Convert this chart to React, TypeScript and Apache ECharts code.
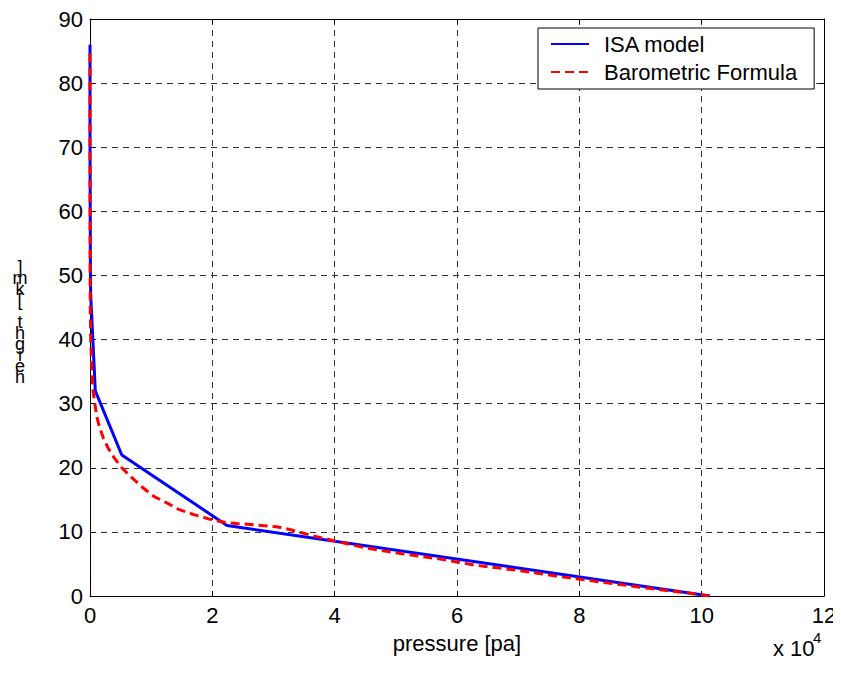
import React, { useEffect, useRef } from "react";
import * as echarts from "echarts";

// ISA model: [pressure Pa, height km]
const isaModel: [number, number][] = [
  [101325, 0],
  [22400, 11],
  [5200, 22],
  [868, 32],
  [111, 47],
  [67, 51],
  [4, 71],
  [0.37, 86],
];

// Barometric formula: [pressure Pa, height km]
const barometric: [number, number][] = [
  [101300, 0], [97500, 0.5], [93000, 1], [85000, 2], [77000, 3], [70000, 4],
  [63000, 4.8], [57000, 5.8], [51000, 6.6], [45000, 7.5], [40000, 8.6],
  [36000, 9.5], [33000, 10.3], [30500, 10.8], [27000, 11.1], [24000, 11.3],
  [22000, 11.5], [19500, 12], [17000, 12.7], [14500, 13.5], [12800, 14.4],
  [10500, 15.5], [8500, 17], [6800, 18.5], [5200, 20], [4000, 21.5],
  [3000, 23], [2200, 24.6], [1600, 26.2], [1100, 28], [800, 30], [500, 32],
  [300, 35], [120, 40], [50, 45], [20, 50], [6, 60], [1.5, 70], [0.3, 85],
];

const seriesNames = ["ISA model", "Barometric Formula"];
const xTitle = "pressure [pa]";
const yTitle = "height [km]";
const xScaleText = "x 10";
const xScaleExp = "4";

export default function App() {
  const ref = useRef<HTMLDivElement>(null);
  useEffect(() => {
    if (!ref.current) return;
    const chart = echarts.init(ref.current, null, { renderer: "svg" });
    const font = "'Liberation Sans', Arial, sans-serif";
    const axisCommon = {
      min: 0,
      axisLine: { show: true, onZero: false, lineStyle: { color: "#000", width: 1 } },
      axisTick: { show: true, inside: true, length: 5, lineStyle: { color: "#000" } },
    };
    const yChars = yTitle.split("").reverse().join("\n");
    chart.setOption({
      animation: false,
      backgroundColor: "#fff",
      textStyle: { fontFamily: font },
      grid: { left: 82, right: 17, top: 8, bottom: 69, containLabel: false },
      legend: {
        data: seriesNames,
        orient: "vertical",
        left: 530,
        top: 20,
        padding: [5, 17, 6, 12],
        itemGap: 6,
        itemWidth: 38,
        itemHeight: 14,
        backgroundColor: "#fff",
        borderColor: "#000",
        borderWidth: 1,
        borderRadius: 0,
        itemStyle: { opacity: 0 },
        textStyle: { fontFamily: font, fontSize: 22, color: "#000", padding: [0, 0, 0, 10] },
      },
      xAxis: [
        {
          ...axisCommon,
          type: "value",
          max: 120000,
          interval: 20000,
          position: "bottom",
          axisLabel: {
            color: "#000",
            fontSize: 22,
            fontFamily: font,
            margin: 8,
            formatter: (v: number) => String(v / 10000),
          },
          splitLine: { show: true, lineStyle: { color: "#333", type: [6, 5], width: 1 } },
          name: xTitle,
          nameLocation: "middle",
          nameGap: 36,
          nameTextStyle: { color: "#000", fontSize: 22, fontFamily: font, verticalAlign: "top" },
        },
        {
          ...axisCommon,
          type: "value",
          max: 120000,
          interval: 20000,
          position: "top",
          axisLabel: { show: false },
          splitLine: { show: false },
        },
      ],
      yAxis: [
        {
          ...axisCommon,
          type: "value",
          max: 90,
          interval: 10,
          position: "left",
          axisLabel: { color: "#000", fontSize: 22, fontFamily: font, margin: 7 },
          splitLine: { show: true, lineStyle: { color: "#333", type: [6, 5], width: 1 } },
        },
        {
          ...axisCommon,
          type: "value",
          max: 90,
          interval: 10,
          position: "right",
          axisLabel: { show: false },
          splitLine: { show: false },
        },
      ],
      graphic: [
        {
          type: "text",
          x: 12,
          y: 253,
          style: {
            text: yChars,
            font: `18px ${font}`,
            lineHeight: 11,
            fill: "#000",
            align: "center",
            verticalAlign: "top",
          },
        },
        {
          type: "text",
          x: 765,
          y: 629,
          style: { text: xScaleText, font: `22px ${font}`, fill: "#000", verticalAlign: "top" },
        },
        {
          type: "text",
          x: 805,
          y: 622,
          style: { text: xScaleExp, font: `15px ${font}`, fill: "#000", verticalAlign: "top" },
        },
      ],
      series: [
        {
          name: seriesNames[0],
          type: "line",
          data: isaModel,
          showSymbol: false,
          symbol: "none",
          color: "#0000ff",
          lineStyle: { color: "#0000ff", width: 3 },
          z: 3,
        },
        {
          name: seriesNames[1],
          type: "line",
          data: barometric,
          showSymbol: false,
          symbol: "none",
          color: "#ff0000",
          lineStyle: { color: "#ff0000", width: 3, type: [9, 5] },
          z: 4,
        },
      ],
    });
    return () => chart.dispose();
  }, []);
  return <div ref={ref} style={{ width: 833, height: 657 }} />;
}
